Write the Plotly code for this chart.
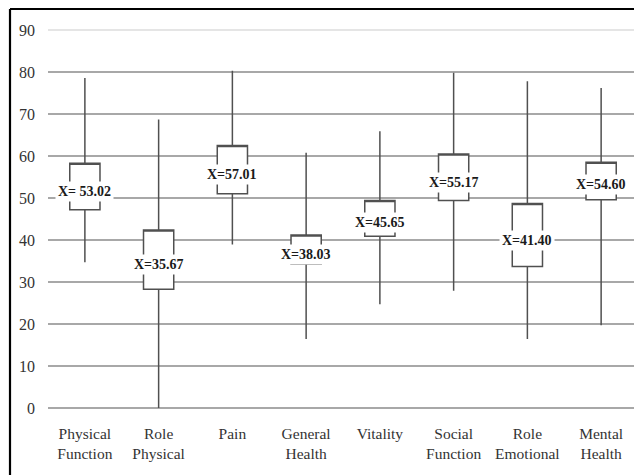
import plotly.graph_objects as go

categories = ["Physical Function", "Role Physical", "Pain", "General Health",
              "Vitality", "Social Function", "Role Emotional", "Mental Health"]
tick_labels = ["Physical<br>Function", "Role<br>Physical", "Pain", "General<br>Health",
               "Vitality", "Social<br>Function", "Role<br>Emotional", "Mental<br>Health"]
whisker_low = [34.7, 0.0, 38.9, 16.4, 24.7, 27.9, 16.4, 19.7]
box_low = [47.2, 28.3, 51.0, 34.3, 40.9, 49.4, 33.7, 49.6]
box_high = [58.3, 42.4, 62.5, 41.2, 49.4, 60.5, 48.7, 58.5]
whisker_high = [78.6, 68.7, 80.3, 60.8, 65.9, 79.8, 77.8, 76.2]
means = [53.02, 35.67, 57.01, 38.03, 45.65, 55.17, 41.40, 54.60]
mean_labels = ["X= 53.02", "X=35.67", "X=57.01", "X=38.03",
               "X=45.65", "X=55.17", "X=41.40", "X=54.60"]
y_ticks = [0, 10, 20, 30, 40, 50, 60, 70, 80, 90]

SERIF = "Liberation Serif"
LINE = "#505050"

fig = go.Figure()
fig.add_trace(go.Box(
    x=categories,
    q1=box_low,
    median=box_high,
    q3=box_high,
    lowerfence=whisker_low,
    upperfence=whisker_high,
    boxpoints=False,
    width=0.41,
    whiskerwidth=0,
    fillcolor="white",
    line=dict(color=LINE, width=1.5),
    showlegend=False,
    hoverinfo="skip",
))

for c, m, t in zip(categories, means, mean_labels):
    fig.add_annotation(
        x=c, y=m, text="<b>" + t + "</b>", showarrow=False,
        yshift=-6, bgcolor="white", borderpad=2,
        font=dict(family=SERIF, size=14, color="#1a1a1a"),
    )

# outer frame (left and top black lines)
fig.add_shape(type="line", xref="paper", yref="paper",
              x0=-0.0644, x1=-0.0644, y0=1.0556, y1=-0.2,
              line=dict(color="black", width=2.2))
fig.add_shape(type="line", xref="paper", yref="paper",
              x0=-0.0644, x1=1.02, y0=1.0556, y1=1.0556,
              line=dict(color="black", width=2.2))
# light plot-area border (top and right)
fig.add_shape(type="line", xref="paper", yref="paper",
              x0=0, x1=1, y0=1, y1=1, line=dict(color="#dcdcdc", width=1.5))
fig.add_shape(type="line", xref="paper", yref="paper",
              x0=1, x1=1, y0=0, y1=1, line=dict(color="#dcdcdc", width=1.5))

fig.update_layout(
    width=634, height=467,
    margin=dict(l=40, r=4, t=22, b=67),
    paper_bgcolor="white", plot_bgcolor="white",
    font=dict(family=SERIF, color="#333333"),
    xaxis=dict(
        type="category", tickmode="array", tickvals=categories, ticktext=tick_labels,
        showgrid=False, showline=False, zeroline=False, ticks="",
        ticklabelstandoff=14,
        tickfont=dict(family=SERIF, size=15.5, color="#333333"),
        range=[-0.5, 7.5],
    ),
    yaxis=dict(
        range=[0, 90], tickmode="array", tickvals=y_ticks,
        showgrid=True, gridcolor="#a8a8a8", gridwidth=1.6,
        zeroline=True, zerolinecolor="#a8a8a8", zerolinewidth=1.6,
        showline=False, ticks="", ticklabelstandoff=12,
        tickfont=dict(family=SERIF, size=16, color="#333333"),
    ),
)

fig.write_html("out.html")
